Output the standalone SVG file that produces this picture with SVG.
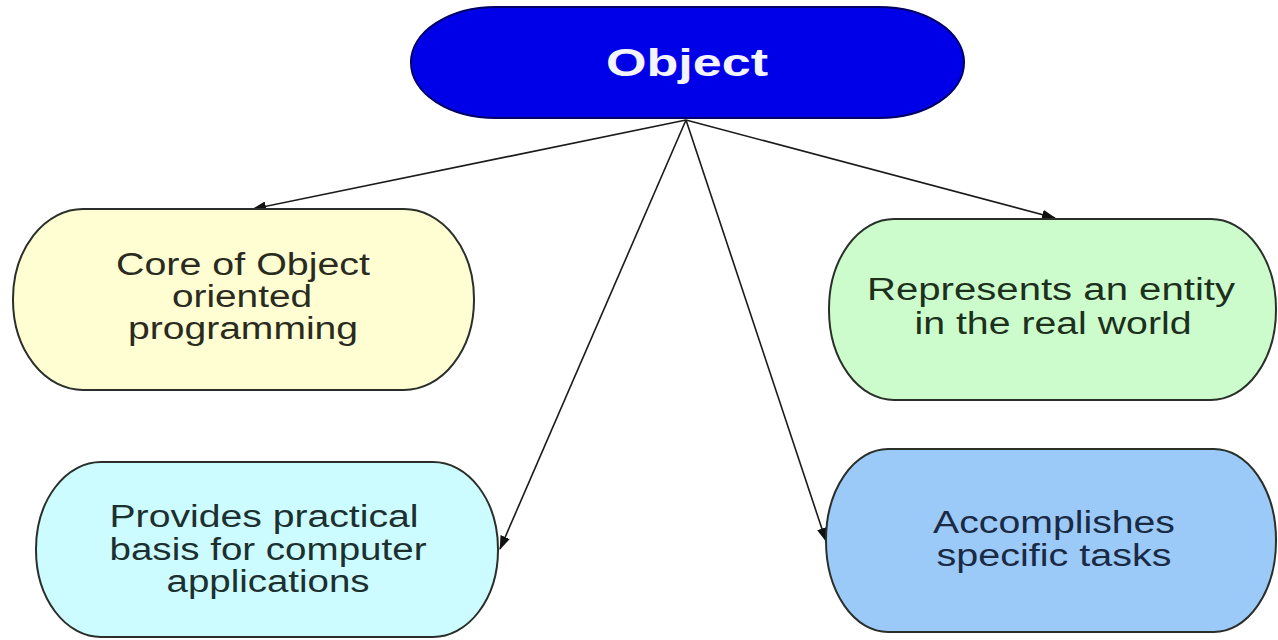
<svg xmlns="http://www.w3.org/2000/svg" width="1278" height="640" viewBox="0 0 1278 640">
<defs>
<style>
.node{stroke:#2a2f2a;stroke-width:2}
.lbl{font-family:"Liberation Sans",Arial,sans-serif;font-size:31px;text-anchor:middle}
.title{font-family:"Liberation Sans",Arial,sans-serif;font-size:38px;font-weight:bold;fill:#f4f4ff;text-anchor:middle}
.conn{stroke:#1a1a1a;stroke-width:1.6;fill:none}
</style>
<marker id="arr" markerUnits="userSpaceOnUse" markerWidth="14" markerHeight="10" refX="13" refY="5" orient="auto">
<path d="M0,0 L14,5 L0,10 Z" fill="#111"/>
</marker>
</defs>
<rect width="1278" height="640" fill="#ffffff"/>
<g id="connectors">
<line class="conn" x1="686" y1="120" x2="253" y2="209" marker-end="url(#arr)"/>
<line class="conn" x1="686" y1="120" x2="1055" y2="218" marker-end="url(#arr)"/>
<line class="conn" x1="686" y1="120" x2="500" y2="549" marker-end="url(#arr)"/>
<line class="conn" x1="686" y1="120" x2="826" y2="541" marker-end="url(#arr)"/>
</g>
<g id="node-object">
<rect x="411" y="7" width="553" height="111" rx="85" ry="55" fill="#0000e8" stroke="#000066" stroke-width="2"/>
<text class="title" x="687" y="76" textLength="162" lengthAdjust="spacingAndGlyphs">Object</text>
</g>
<g id="node-core">
<rect class="node" x="13" y="209" width="461" height="181" rx="70" ry="90" fill="#fefed2"/>
<text class="lbl" fill="#2a2a1e" x="243" y="275" textLength="254" lengthAdjust="spacingAndGlyphs">Core of Object</text>
<text class="lbl" fill="#2a2a1e" x="242" y="307" textLength="140" lengthAdjust="spacingAndGlyphs">oriented</text>
<text class="lbl" fill="#2a2a1e" x="243" y="339" textLength="230" lengthAdjust="spacingAndGlyphs">programming</text>
</g>
<g id="node-represents">
<rect class="node" x="829" y="219" width="447" height="181" rx="65" ry="90" fill="#ccfccc"/>
<text class="lbl" fill="#1c301c" x="1051" y="300" textLength="368" lengthAdjust="spacingAndGlyphs">Represents an entity</text>
<text class="lbl" fill="#1c301c" x="1053" y="334" textLength="277" lengthAdjust="spacingAndGlyphs">in the real world</text>
</g>
<g id="node-provides">
<rect class="node" x="36" y="462" width="462" height="175" rx="65" ry="87" fill="#ccfcff"/>
<text class="lbl" fill="#1c3030" x="264" y="527" textLength="309" lengthAdjust="spacingAndGlyphs">Provides practical</text>
<text class="lbl" fill="#1c3030" x="268" y="560" textLength="317" lengthAdjust="spacingAndGlyphs">basis for computer</text>
<text class="lbl" fill="#1c3030" x="268" y="592" textLength="203" lengthAdjust="spacingAndGlyphs">applications</text>
</g>
<g id="node-accomplishes">
<rect class="node" x="826" y="449" width="450" height="183" rx="62" ry="91" fill="#9ccaf8"/>
<text class="lbl" fill="#1a2a44" x="1054" y="533" textLength="242" lengthAdjust="spacingAndGlyphs">Accomplishes</text>
<text class="lbl" fill="#1a2a44" x="1054" y="566" textLength="235" lengthAdjust="spacingAndGlyphs">specific tasks</text>
</g>
</svg>
